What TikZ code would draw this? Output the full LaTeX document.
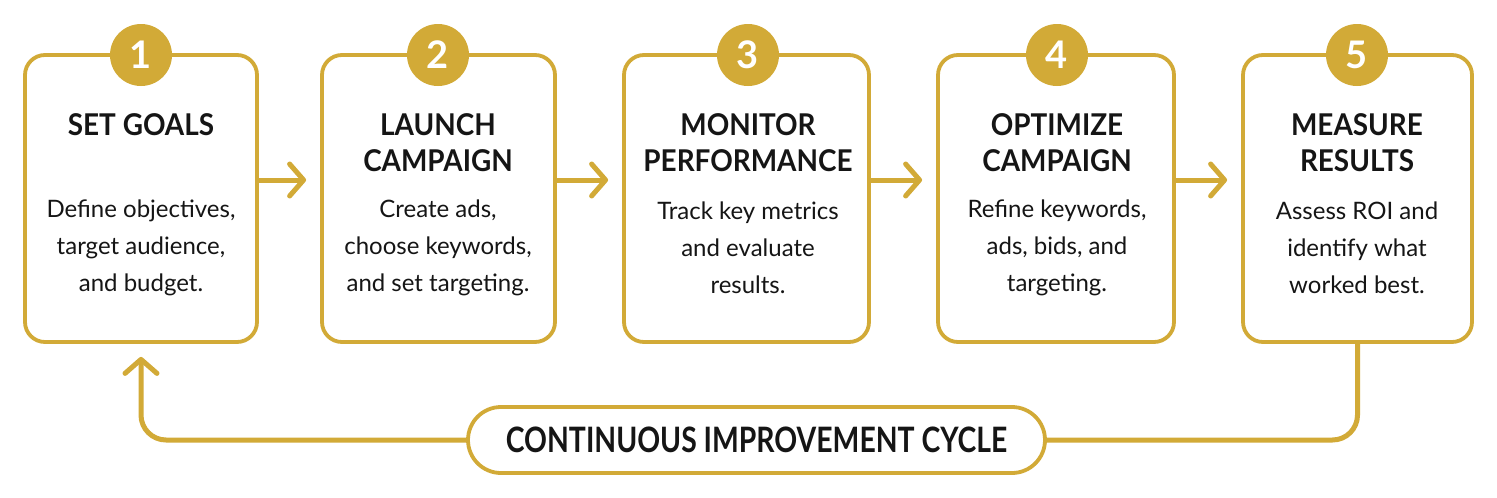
\documentclass[tikz,border=0pt]{standalone}
\usepackage{fontspec}
\setmainfont{Lato}
\newfontfamily\ttlfont[FakeStretch=0.93]{Lato}
\newfontfamily\pillfont[FakeStretch=0.81]{Lato}
\usetikzlibrary{arrows.meta}
\definecolor{gold}{HTML}{D2AA37}
\definecolor{ink}{HTML}{151515}
\tikzset{
  stepbox/.style={draw=gold, line width=3.8pt, rounded corners=20pt, fill=white, minimum height=287pt},
  numdot/.style={circle, fill=gold, minimum size=62pt, inner sep=0pt, text=white, font=\fontsize{38}{38}\selectfont\bfseries},
  ttl/.style={align=center, text=ink, inner sep=0pt, font=\ttlfont\fontsize{30}{36}\selectfont\bfseries},
  body/.style={align=center, text=ink, inner sep=0pt, font=\fontsize{24}{37}\selectfont},
  flow/.style={draw=gold, line width=5pt, line cap=round, -{Straight Barb[length=14pt,width=32pt,round]}},
  loopline/.style={draw=gold, line width=5pt, rounded corners=25pt},
  pillbox/.style={draw=gold, line width=3.8pt, rounded corners=33pt, fill=white, minimum width=577pt, minimum height=66pt, text=ink, font=\pillfont\fontsize{35}{35}\selectfont\bfseries}
}
\begin{document}
\begin{tikzpicture}[x=1pt,y=-1pt]
\useasboundingbox[fill=white] (0,0) rectangle (1497,498);
% boxes
\node[stepbox, minimum width=232pt] (b1) at (141,198.5) {};
\node[stepbox, minimum width=233pt] (b2) at (438.5,198.5) {};
\node[stepbox, minimum width=245pt] (b3) at (746.5,198.5) {};
\node[stepbox, minimum width=236pt] (b4) at (1056,198.5) {};
\node[stepbox, minimum width=229pt] (b5) at (1357.5,198.5) {};
% number circles
\node[numdot] (n1) at (141,55) {1};
\node[numdot] (n2) at (438,55) {2};
\node[numdot] (n3) at (748,55) {3};
\node[numdot] (n4) at (1057,55) {4};
\node[numdot] (n5) at (1357,55) {5};
% titles
\node[ttl] (t1) at (141,125) {SET GOALS};
\node[ttl] (t2) at (438,143) {LAUNCH\\CAMPAIGN};
\node[ttl] (t3) at (748,143) {MONITOR\\PERFORMANCE};
\node[ttl] (t4) at (1057,143) {OPTIMIZE\\CAMPAIGN};
\node[ttl] (t5) at (1357,143) {MEASURE\\RESULTS};
% bodies
\node[body] (d1) at (141,248) {Define objectives,\\target audience,\\and budget.};
\node[body] (d2) at (438,248) {Create ads,\\choose keywords,\\and set targeting.};
\node[body] (d3) at (748,248) {Track key metrics\\and evaluate\\results.};
\node[body] (d4) at (1057,248) {Refine keywords,\\ads, bids, and\\targeting.};
\node[body] (d5) at (1357,248) {Assess ROI and\\identify what\\worked best.};
% flow arrows
\draw[flow, shorten >=14pt] (b1.east |- 0,180) -- (b2.west |- 0,180);
\draw[flow, shorten >=14pt] (b2.east |- 0,180) -- (b3.west |- 0,180);
\draw[flow, shorten >=14pt] (b3.east |- 0,180) -- (b4.west |- 0,180);
\draw[flow, shorten >=14pt] (b4.east |- 0,180) -- (b5.west |- 0,180);
% improvement cycle
\node[pillbox] (pill) at (756.5,440) {CONTINUOUS IMPROVEMENT CYCLE};
\draw[loopline] (b5.south) |- (pill.east);
\draw[loopline, flow, shorten >=13pt] (pill.west) -| (b1.south);
\end{tikzpicture}
\end{document}
